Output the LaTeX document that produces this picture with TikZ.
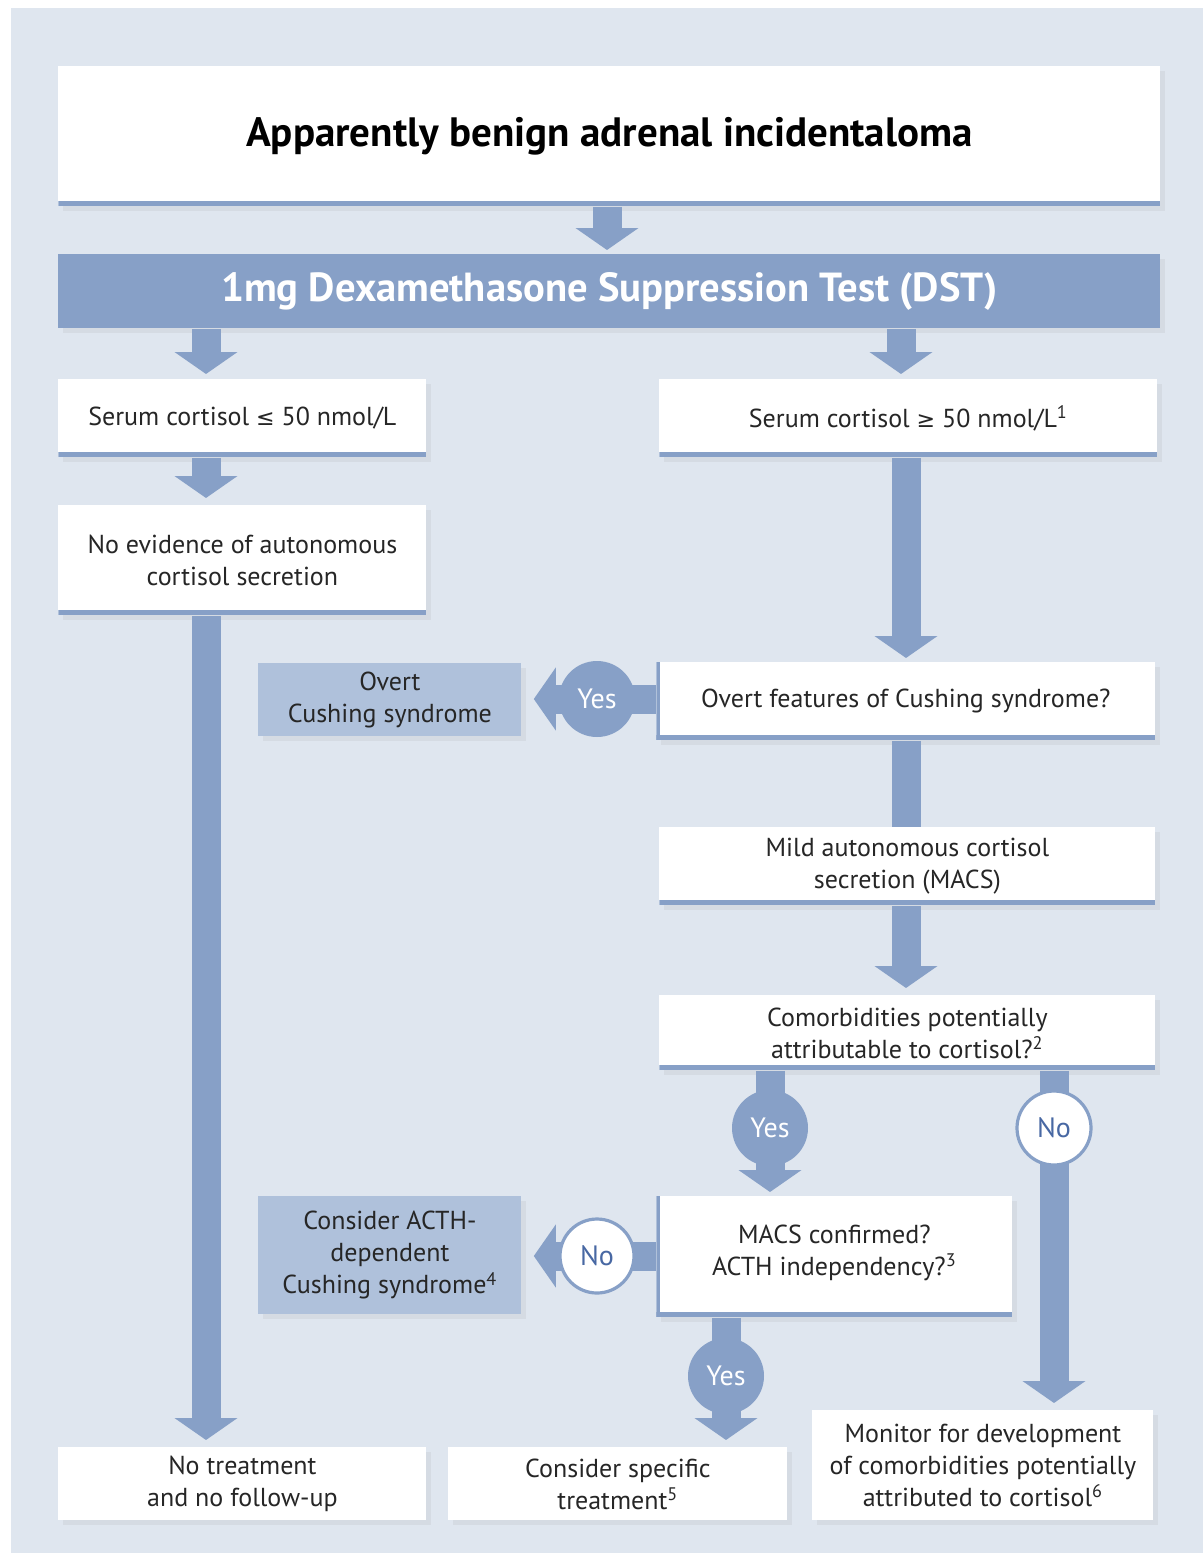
\documentclass[tikz,border=0pt]{standalone}
\usepackage{fontspec}
\setmainfont{PT Sans}
\newfontfamily\symf{DejaVu Sans}[Scale=0.85]
\usetikzlibrary{arrows.meta,shadows,calc}
\definecolor{bgblue}{HTML}{DFE6EF}
\definecolor{ablue}{HTML}{87A0C7}
\definecolor{lblue}{HTML}{AFC1DB}
\definecolor{nblue}{HTML}{4868A3}
\tikzset{
  box/.style={fill=white, anchor=north west, inner sep=0pt, align=center,
    font=\fontsize{13}{16}\selectfont, text=black!85,
    drop shadow={opacity=0.10, shadow xshift=2.5pt, shadow yshift=-2.5pt}},
  stripe/.style={path picture={\fill[ablue] (path picture bounding box.south west) rectangle ([yshift=2.8pt]path picture bounding box.south east);}},
  stripeL/.style={path picture={\fill[ablue] (path picture bounding box.south west) rectangle ([yshift=2.8pt]path picture bounding box.south east);
      \fill[ablue] (path picture bounding box.south west) rectangle ([xshift=1.6pt]path picture bounding box.north west);}},
  lbox/.style={box, fill=lblue},
  flow/.style={draw=ablue, line width=14.5pt, -{Triangle[length=11pt 0 0, width=31pt 0 0]}},
  shaft/.style={draw=ablue, line width=14.5pt},
  yesb/.style={circle, fill=ablue, minimum size=38pt, inner sep=0pt, text=white, font=\fontsize{14}{16}\selectfont},
  nob/.style={circle, fill=white, draw=ablue, line width=1.6pt, minimum size=37pt, inner sep=0pt, text=nblue, font=\fontsize{14}{16}\selectfont},
}
\begin{document}
\begin{tikzpicture}[x=0.5pt,y=-0.5pt]
\useasboundingbox (0,0) rectangle (1203,1553);
\fill[white] (0,0) rectangle (1203,1553);
\fill[bgblue] (11,8) rectangle (1203,1553);

% boxes
\node[box, stripe, minimum width=551pt, minimum height=70pt, font=\fontsize{20.5}{24}\selectfont\bfseries, text=black] (title) at (58,66) {Apparently benign adrenal incidentaloma};
\node[box, fill=ablue, minimum width=551pt, minimum height=37pt, font=\fontsize{20.3}{24}\selectfont\bfseries, text=white] (dst) at (58,254) {1mg Dexamethasone Suppression Test (DST)};
\node[box, stripe, minimum width=184pt, minimum height=39pt] (lo) at (58,379) {Serum cortisol {\symf ≤} 50 nmol/L};
\node[box, stripe, minimum width=249pt, minimum height=39pt] (hi) at (659,379) {Serum cortisol {\symf ≥} 50 nmol/L\textsuperscript{1}};
\node[box, stripe, minimum width=184pt, minimum height=55pt] (noev) at (58,505) {No evidence of autonomous\\cortisol secretion};
\node[box, stripeL, minimum width=249.5pt, minimum height=39pt] (overtq) at (656,662) {Overt features of Cushing syndrome?};
\node[lbox, minimum width=131.5pt, minimum height=36.5pt] (overt) at (258,663) {Overt\\Cushing syndrome};
\node[box, stripe, minimum width=248pt, minimum height=39pt] (macs) at (659,827) {Mild autonomous cortisol\\secretion (MACS)};
\node[box, stripe, minimum width=248pt, minimum height=37.5pt] (comorb) at (659,995) {Comorbidities potentially\\attributable to cortisol?\textsuperscript{2}};
\node[box, stripeL, minimum width=178pt, minimum height=60.5pt] (macsq) at (656,1196) {MACS confirmed?\\ACTH independency?\textsuperscript{3}\\[-9pt]\mbox{}};
\node[lbox, minimum width=131.5pt, minimum height=59pt] (acth) at (258,1196) {Consider ACTH-\\dependent\\Cushing syndrome\textsuperscript{4}};
\node[box, minimum width=184pt, minimum height=36.5pt] (notreat) at (58,1447) {No treatment\\and no follow-up};
\node[box, minimum width=169.5pt, minimum height=36.5pt] (spec) at (448,1447) {Consider specific\\treatment\textsuperscript{5}};
\node[box, minimum width=170.5pt, minimum height=55pt] (monitor) at (812,1410) {Monitor for development\\of comorbidities potentially\\attributed to cortisol\textsuperscript{6}};

% bubble positions
\coordinate (yes1c) at (597,699);
\coordinate (no1c) at (597,1256);
\coordinate (yes2c) at (770,1128);
\coordinate (no2c) at (1054,1128);
\coordinate (yes3c) at (726,1376);

% connectors
\draw[flow, shorten >=2pt] (title.south -| 607,0) -- (dst.north -| 607,0);
\draw[flow, shorten >=2.5pt] (dst.south -| 206,0) -- (lo.north -| 206,0);
\draw[flow, shorten >=2.5pt] (dst.south -| 901,0) -- (hi.north -| 901,0);
\draw[flow, shorten >=3.5pt] (lo.south -| 206,0) -- (noev.north -| 206,0);
\draw[flow, shorten >=3.5pt] (noev.south -| 206,0) -- (notreat.north -| 206,0);
\draw[flow, shorten >=2pt] (hi.south -| 906,0) -- (overtq.north -| 906,0);
\draw[shaft] (overtq.south -| 906,0) -- (macs.north -| 906,0);
\draw[flow, shorten >=3.5pt] (macs.south -| 906,0) -- (comorb.north -| 906,0);
\draw[flow, shorten >=2pt] (comorb.south -| yes2c) -- (macsq.north -| yes2c);
\draw[flow, shorten >=3.5pt] (comorb.south -| no2c) -- (monitor.north -| no2c);
\draw[flow, shorten >=3.5pt] (macsq.south -| yes3c) -- (spec.north -| yes3c);
\draw[flow, shorten >=6pt] (overtq.west |- yes1c) -- (overt.east |- yes1c);
\draw[flow, shorten >=6pt] (macsq.west |- no1c) -- (acth.east |- no1c);

% bubbles
\node[yesb] (yes1) at (yes1c) {Yes};
\node[nob] (no1) at (no1c) {No};
\node[yesb] (yes2) at (yes2c) {Yes};
\node[nob] (no2) at (no2c) {No};
\node[yesb] (yes3) at (yes3c) {Yes};
\end{tikzpicture}
\end{document}
